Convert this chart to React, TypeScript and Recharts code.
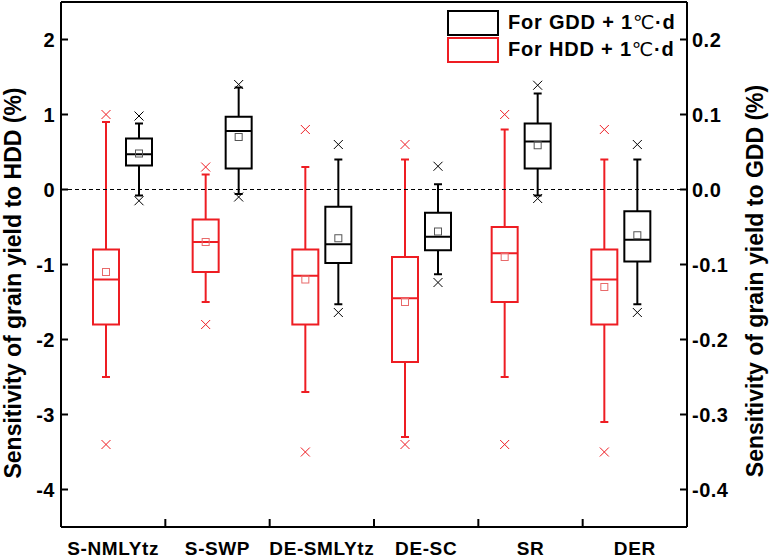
import { ComposedChart, Bar, XAxis, YAxis, ReferenceLine, Legend } from 'recharts';

const FONT = '"Liberation Sans", Arial, sans-serif';
const RED = '#ee1d23';
const BLACK = '#000';

const categories = ['S-NMLYtz', 'S-SWP', 'DE-SMLYtz', 'DE-SC', 'SR', 'DER'];

// HDD sensitivity (%), left axis
const hddOutHigh = [1.0, 0.3, 0.8, 0.6, 1.0, 0.8];
const hddWhiskHigh = [0.9, 0.2, 0.3, 0.4, 0.8, 0.4];
const hddQ3 = [-0.8, -0.4, -0.8, -0.9, -0.5, -0.8];
const hddMedian = [-1.2, -0.7, -1.15, -1.45, -0.85, -1.2];
const hddMean = [-1.1, -0.7, -1.2, -1.5, -0.9, -1.3];
const hddQ1 = [-1.8, -1.1, -1.8, -2.3, -1.5, -1.8];
const hddWhiskLow = [-2.5, -1.5, -2.7, -3.3, -2.5, -3.1];
const hddOutLow = [-3.4, -1.8, -3.5, -3.4, -3.4, -3.5];

// GDD sensitivity (%), right axis
const gddOutHigh = [0.098, 0.14, 0.06, 0.031, 0.139, 0.06];
const gddWhiskHigh = [0.088, 0.136, 0.04, 0.007, 0.128, 0.04];
const gddQ3 = [0.068, 0.097, -0.023, -0.031, 0.088, -0.029];
const gddMedian = [0.047, 0.078, -0.073, -0.063, 0.064, -0.067];
const gddMean = [0.048, 0.07, -0.065, -0.056, 0.059, -0.061];
const gddQ1 = [0.032, 0.028, -0.098, -0.081, 0.028, -0.096];
const gddWhiskLow = [-0.008, -0.006, -0.153, -0.113, -0.008, -0.153];
const gddOutLow = [-0.015, -0.01, -0.164, -0.124, -0.012, -0.164];

const leftTicks = [-4, -3, -2, -1, 0, 1, 2];
const rightTicks = [-0.4, -0.3, -0.2, -0.1, 0, 0.1, 0.2];

const rows = categories.map((name, i) => ({
  name,
  pos: i + 0.5,
  hdd: [hddOutLow[i], hddOutHigh[i]],
  gdd: [gddOutLow[i], gddOutHigh[i]],
  hs: { lo: hddOutLow[i], hi: hddOutHigh[i], wl: hddWhiskLow[i], wh: hddWhiskHigh[i], q1: hddQ1[i], q3: hddQ3[i], med: hddMedian[i], mean: hddMean[i] },
  gs: { lo: gddOutLow[i], hi: gddOutHigh[i], wl: gddWhiskLow[i], wh: gddWhiskHigh[i], q1: gddQ1[i], q3: gddQ3[i], med: gddMedian[i], mean: gddMean[i] },
}));

// frame axis ticks: category boundaries (integers) and label slots (halves)
const frameTicks = categories.flatMap((_, i) => (i === 0 ? [0.5] : [i, i + 0.5]));

function boxShape(key: 'hs' | 'gs', color: string, meanColor: string) {
  return (props: any) => {
    const { x, y, width, height, payload } = props;
    const s = payload[key];
    const py = (v: number) => y + ((s.hi - v) / (s.hi - s.lo)) * height;
    const cx = x + width / 2;
    const cap = 4;
    const cr = 4.5;
    const cross = (v: number, k: string) => {
      const c = py(v);
      return (
        <g key={k} stroke={color} strokeWidth={1}>
          <line x1={cx - cr} y1={c - cr} x2={cx + cr} y2={c + cr} />
          <line x1={cx - cr} y1={c + cr} x2={cx + cr} y2={c - cr} />
        </g>
      );
    };
    return (
      <g>
        <g stroke={color} strokeWidth={2} fill="none">
          <line x1={cx} y1={py(s.wh)} x2={cx} y2={py(s.q3)} />
          <line x1={cx} y1={py(s.q1)} x2={cx} y2={py(s.wl)} />
          <line x1={cx - cap} y1={py(s.wh)} x2={cx + cap} y2={py(s.wh)} />
          <line x1={cx - cap} y1={py(s.wl)} x2={cx + cap} y2={py(s.wl)} />
          <rect x={x} y={py(s.q3)} width={width} height={py(s.q1) - py(s.q3)} />
          <line x1={x} y1={py(s.med)} x2={x + width} y2={py(s.med)} />
        </g>
        <rect x={cx - 3.5} y={py(s.mean) - 3.5} width={7} height={7} fill="none" stroke={meanColor} strokeWidth={1} />
        {cross(s.hi, 'h')}
        {cross(s.lo, 'l')}
      </g>
    );
  };
}

function FrameTick(props: any) {
  const { x, y, payload } = props;
  const v = payload.value;
  if (Number.isInteger(v)) {
    return <line x1={x} y1={y} x2={x} y2={y - 8} stroke={BLACK} strokeWidth={2} />;
  }
  return (
    <text x={x} y={y + 28} textAnchor="middle" fontFamily={FONT} fontWeight="bold" fontSize={19} letterSpacing={0.6} fill={BLACK}>
      {categories[Math.floor(v)]}
    </text>
  );
}

function LegendBox() {
  const item = (color: string, label: string) => (
    <div style={{ display: 'flex', alignItems: 'center', height: 27 }}>
      <div style={{ width: 48, height: 22, border: `2px solid ${color}`, marginRight: 9 }} />
      <span style={{ fontFamily: FONT, fontWeight: 'bold', fontSize: 20, letterSpacing: 0.8, color: BLACK, whiteSpace: 'nowrap' }}>
        {label} + 1<span style={{ fontWeight: 'normal', fontFamily: '"DejaVu Sans", sans-serif', fontSize: 19 }}>℃</span>·d
      </span>
    </div>
  );
  return (
    <div>
      {item(BLACK, 'For GDD')}
      {item(RED, 'For HDD')}
    </div>
  );
}

const axisStyle = { stroke: BLACK, strokeWidth: 2 };
const tickStyle = { fontFamily: FONT, fontWeight: 'bold', fontSize: 20, letterSpacing: 0.5, fill: BLACK };
const titleProps = { textAnchor: 'middle' as const, dominantBaseline: 'central' as const, fontFamily: FONT, fontWeight: 'bold', fontSize: 23, fill: BLACK };

export default function App() {
  return (
    <div style={{ position: 'absolute', left: 0, top: 0, background: '#fff' }}>
      <ComposedChart width={770} height={560} data={rows} margin={{ top: 1, right: 0, bottom: 0, left: 0 }} barSize={26} barGap={7}>
        <XAxis
          xAxisId="a_frame"
          dataKey="pos"
          type="number"
          scale="linear"
          domain={[0, 6]}
          allowDataOverflow
          ticks={frameTicks}
          interval={0}
          height={33}
          axisLine={axisStyle}
          tickLine={false}
          tickSize={0}
          tickMargin={0}
          tick={<FrameTick />}
        />
        <XAxis xAxisId="b_box" dataKey="name" hide height={0} padding={{ left: 12, right: 16 }} />
        <XAxis xAxisId="c_top" orientation="top" dataKey="pos" type="number" domain={[0, 6]} allowDataOverflow height={1} tick={false} tickLine={false} axisLine={axisStyle} />
        <YAxis
          yAxisId="left"
          domain={[-4.5, 2.5]}
          ticks={leftTicks}
          interval={0}
          width={61}
          axisLine={axisStyle}
          tickLine={axisStyle}
          tickSize={-7}
          tickMargin={13}
          tick={tickStyle}
          label={{
            content: () => (
              <text x={13} y={283} transform="rotate(-90 13 283)" {...titleProps}>
                Sensitivity of grain yield to HDD (%)
              </text>
            ),
          }}
        />
        <YAxis
          yAxisId="right"
          orientation="right"
          domain={[-0.45, 0.25]}
          ticks={rightTicks}
          interval={0}
          width={83}
          axisLine={axisStyle}
          tickLine={axisStyle}
          tickSize={-7}
          tickMargin={12}
          tick={tickStyle}
          tickFormatter={(v: number) => v.toFixed(1)}
          label={{
            content: () => (
              <text x={755} y={281} transform="rotate(-90 755 281)" {...titleProps}>
                Sensitivity of grain yield to GDD (%)
              </text>
            ),
          }}
        />
        <ReferenceLine yAxisId="left" xAxisId="a_frame" y={0} stroke={BLACK} strokeWidth={1} strokeDasharray="4 3" />
        <Bar xAxisId="b_box" yAxisId="left" dataKey="hdd" name="For HDD + 1℃·d" isAnimationActive={false} shape={boxShape('hs', RED, '#e86a6a')} />
        <Bar xAxisId="b_box" yAxisId="right" dataKey="gdd" name="For GDD + 1℃·d" isAnimationActive={false} shape={boxShape('gs', BLACK, '#555')} />
        <Legend
          layout="horizontal"
          verticalAlign="middle"
          align="center"
          wrapperStyle={{ top: 9, left: 447, width: 245 }}
          content={() => <LegendBox />}
        />
      </ComposedChart>
    </div>
  );
}
